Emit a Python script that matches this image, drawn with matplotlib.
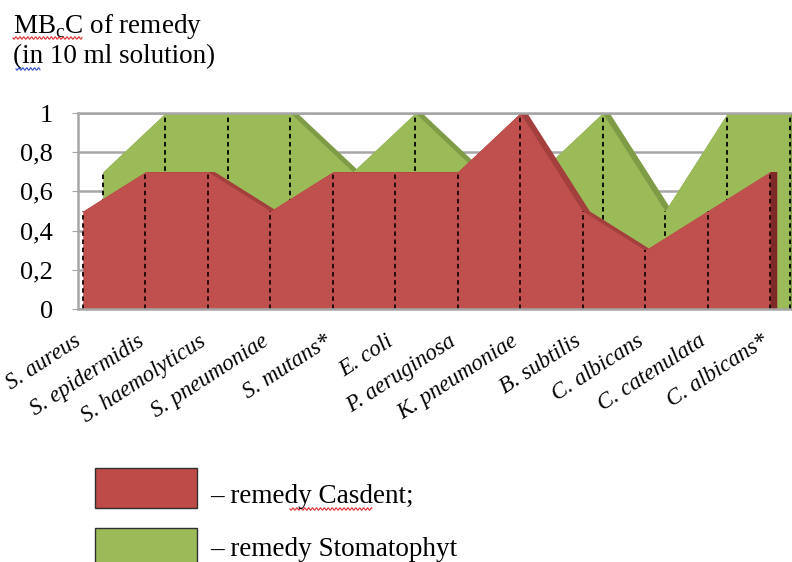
import numpy as np
import matplotlib
matplotlib.use("Agg")
import matplotlib.pyplot as plt
from matplotlib.patches import Rectangle

plt.rcParams['font.family'] = ['Liberation Serif', 'DejaVu Serif']
plt.rcParams['mathtext.fontset'] = 'custom'
plt.rcParams['mathtext.rm'] = 'Liberation Serif'

categories = ["S. aureus", "S. epidermidis", "S. haemolyticus", "S. pneumoniae",
              "S. mutans*", "E. coli", "P. aeruginosa", "K. pneumoniae",
              "B. subtilis", "C. albicans", "C. catenulata", "C. albicans*"]
casdent = [0.5, 0.7, 0.7, 0.5, 0.7, 0.7, 0.7, 1.0, 0.5, 0.3, 0.5, 0.7]
stomatophyt = [0.7, 1.0, 1.0, 1.0, 0.7, 1.0, 0.7, 0.7, 1.0, 0.5, 1.0, 1.0]
yticks = [0, 0.2, 0.4, 0.6, 0.8, 1.0]
ytick_labels = ["0", "0,2", "0,4", "0,6", "0,8", "1"]

RED = '#C0504D'
RED_TOP = '#A33F3C'
RED_END = '#7F2A28'
GREEN = '#9BBB59'
GREEN_TOP = '#7E9C46'
GRID = '#A6A6A6'

DEPTH = 0.11      # thickness of each 3D ribbon (category units)
BACK_SHIFT = 0.32  # how far the back series is shifted right


def draw_ribbon(ax, x, v, face, top, z):
    """Front face of an area series plus its extruded depth."""
    for t in np.linspace(0, DEPTH, 8):
        ax.fill_between(x + t, 0, v, color=top, lw=0, zorder=z)
    ax.fill_between(x, 0, v, color=face, lw=0, zorder=z + 0.2)


fig = plt.figure(figsize=(7.92, 5.62), dpi=100)
ax = fig.add_axes([78 / 792, (562 - 309) / 562, (792 - 78) / 792, (309 - 113) / 562])

x = np.arange(len(categories), dtype=float)
v_red = np.array(casdent)
v_green = np.array(stomatophyt)

# back series (Stomatophyt)
xg = x + BACK_SHIFT
draw_ribbon(ax, xg, v_green, GREEN, GREEN_TOP, 1)
ax.vlines(xg, 0, v_green, colors='black', linestyles=(0, (2.5, 2)), lw=1.3, zorder=1.5)

# front series (Casdent)
draw_ribbon(ax, x, v_red, RED, RED_TOP, 2)
ax.fill_between([x[-1], x[-1] + DEPTH], 0, v_red[-1], color=RED_END, lw=0, zorder=2.1)
ax.vlines(x, 0, v_red, colors='#1a0505', linestyles=(0, (2.5, 2)), lw=1.3, zorder=2.5)

ax.set_xlim(-0.08, 11.353)
ax.set_ylim(0, 1)
ax.set_yticks(yticks, ytick_labels, fontsize=19)
ax.tick_params(axis='y', length=4, color=GRID, pad=14)
ax.set_xticks([])
ax.yaxis.grid(True, color=GRID, lw=1.8, zorder=0)
ax.set_axisbelow(True)
for side in ['left', 'bottom', 'top']:
    ax.spines[side].set_color(GRID)
    ax.spines[side].set_linewidth(1.8)
ax.spines['right'].set_visible(False)

for xi, name in zip(x, categories):
    ax.text(xi - 0.08, -0.145, name, transform=ax.get_xaxis_transform(),
            rotation=33, ha='right', va='center_baseline', rotation_mode='anchor',
            fontsize=16.5, style='italic')

# title
fig.text(13 / 792, 1 - 33 / 562, r'MB$_\mathrm{c}$C of remedy', fontsize=19.5, va='baseline')
fig.text(13 / 792, 1 - 63 / 562, '(in 10 ml solution)', fontsize=19.5, va='baseline')

# legend drawn as in the source document
fig.patches.append(Rectangle((95 / 792, 1 - 508 / 562), 102 / 792, 40 / 562,
                             transform=fig.transFigure, facecolor='#BE4B48',
                             edgecolor='#303030', lw=1))
fig.patches.append(Rectangle((95 / 792, 1 - 568 / 562), 102 / 792, 40 / 562,
                             transform=fig.transFigure, facecolor=GREEN,
                             edgecolor='#303030', lw=1))
fig.text(210 / 792, 1 - 503 / 562, '– remedy Casdent;', fontsize=19.5, va='baseline')
fig.text(210 / 792, 1 - 556 / 562, '– remedy Stomatophyt', fontsize=19.5, va='baseline')


def squiggle(x0, x1, y, color):
    xs = np.linspace(x0, x1, int((x1 - x0) * 2))
    ys = y + 1.2 * np.sin((xs - x0) * 1.6)
    fig.add_artist(plt.Line2D(xs / 792, 1 - ys / 562, transform=fig.transFigure,
                              color=color, lw=0.8))


squiggle(13, 82, 38, '#E03030')
squiggle(16, 40, 69, '#3050D0')
squiggle(290, 372, 509, '#E03030')

fig.savefig('out.png', dpi=100)
